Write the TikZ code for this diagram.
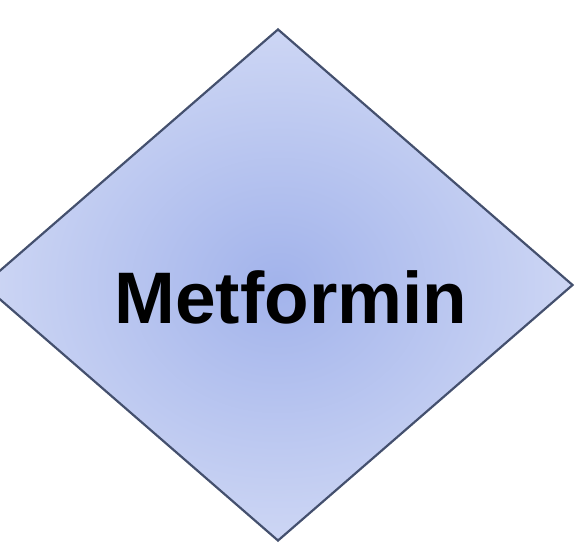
\documentclass[tikz,border=0pt]{standalone}
\usepackage{fontspec}
\setmainfont{Liberation Sans}
\usetikzlibrary{shapes.geometric,positioning}
\definecolor{cEdge}{HTML}{44506E}
\definecolor{cCore}{HTML}{A2B3EB}
\definecolor{cRim}{HTML}{CDD6F4}
\tikzset{
  drugbox/.style={diamond, draw=cEdge, line width=2.2pt, inner sep=0pt,
                  minimum width=590pt, minimum height=512pt,
                  inner color=cCore, outer color=cRim},
  druglbl/.style={font=\fontsize{73}{80}\selectfont\bfseries, text=black, inner sep=0pt},
}
\begin{document}
\begin{tikzpicture}[x=1pt, y=-1pt]
  \useasboundingbox (0,0) rectangle (575,545);
  \clip (0,0) rectangle (575,545);
  % the single decision diamond with its drug name
  \node[drugbox] (drug) at (278,285) {};
  \node[druglbl, anchor=base] (name) at (291,323) {Metformin};
\end{tikzpicture}
\end{document}
